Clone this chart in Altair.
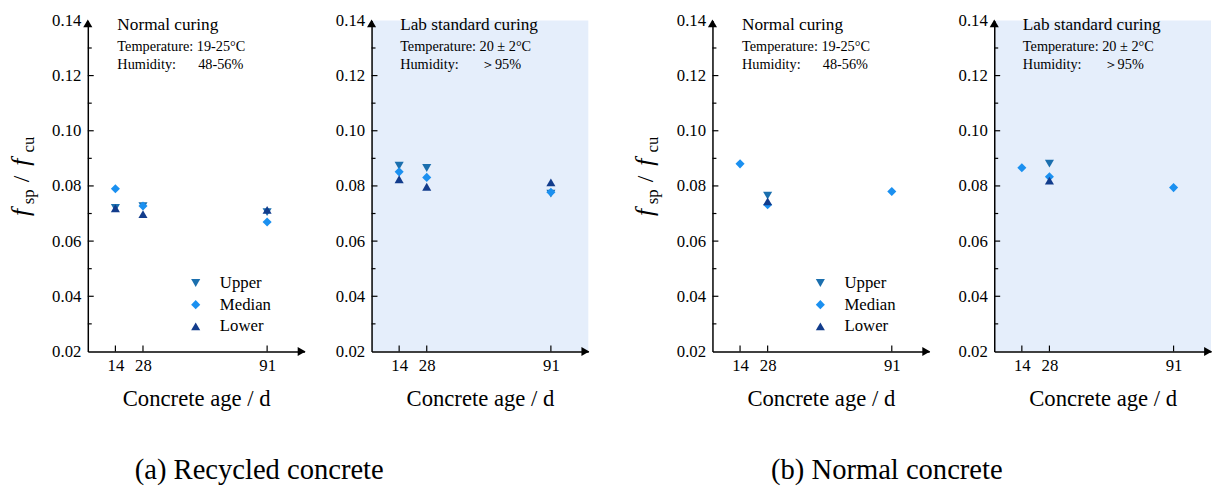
import altair as alt
import pandas as pd

SERIF = "Liberation Serif"

ages = [14, 28, 91]
series_names = ["Upper", "Median", "Lower"]
series_colors = ["#1b6fae", "#1b90f0", "#123c8c"]
series_shapes = ["triangle-down", "diamond", "triangle-up"]

# (a) Recycled concrete
rc_normal_upper = [0.0720, 0.0727, 0.0705]
rc_normal_median = [0.0790, 0.0727, 0.0669]
rc_normal_lower = [0.0719, 0.0698, 0.0713]
rc_lab_upper = [0.0873, 0.0865, 0.0772]
rc_lab_median = [0.0851, 0.0831, 0.0777]
rc_lab_lower = [0.0824, 0.0797, 0.0813]
# (b) Normal concrete
nc_normal_upper = [None, 0.0765, None]
nc_normal_median = [0.0880, 0.0732, 0.0780]
nc_normal_lower = [None, 0.0744, None]
nc_lab_upper = [None, 0.0881, None]
nc_lab_median = [0.0866, 0.0833, 0.0794]
nc_lab_lower = [None, 0.0819, None]

y_ticks = [0.02, 0.04, 0.06, 0.08, 0.10, 0.12, 0.14]
y_major_marks = [0.04, 0.06, 0.08, 0.10, 0.12]
y_minor_marks = [0.03, 0.05, 0.07, 0.09, 0.11, 0.13]
x_ticks = [14, 28, 91]

W, H = 220, 336

xs = alt.Scale(domain=[0, 110], nice=False, zero=False)
ys = alt.Scale(domain=[0.02, 0.14], nice=False, zero=False)
xaxis = alt.Axis(values=x_ticks, title="Concrete age / d", ticks=False, grid=False,
                 labelPadding=6, titlePadding=15, labelFontSize=17, titleFontSize=23,
                 labelFont=SERIF, titleFont=SERIF, titleFontWeight="normal",
                 labelColor="black", titleColor="black", domainColor="black", domainWidth=1.5)
yaxis = alt.Axis(values=y_ticks, format=".2f", title=None, ticks=False, grid=False,
                 labelPadding=7, labelFontSize=17, labelFont=SERIF, labelColor="black",
                 domainColor="black", domainWidth=1.5)
X = alt.X("age:Q", scale=xs, axis=xaxis)
Y = alt.Y("ratio:Q", scale=ys, axis=yaxis)

ONE = alt.Data(values=[{"k": 1}])


def make_df(upper, median, lower):
    rows = []
    for a, u, m, l in zip(ages, upper, median, lower):
        for name, v in (("Upper", u), ("Median", m), ("Lower", l)):
            if v is not None:
                rows.append({"age": a, "ratio": v, "series": name})
    order = {"Upper": 0, "Median": 1, "Lower": 2}
    rows.sort(key=lambda r: order[r["series"]])
    return pd.DataFrame(rows)


def txt(text, x, y, size, align="left", angle=0, style="normal", baseline="alphabetic"):
    kw = dict(text=text, fontSize=size, font=SERIF, align=align, baseline=baseline,
              color="black", fontStyle=style)
    if angle:
        kw["angle"] = angle
    return alt.Chart(ONE).mark_text(**kw).encode(x=alt.value(x), y=alt.value(y))


def panel(upper, median, lower, title, temp, hum, tx, hum_x, legend=False, ytitle=False,
          shaded=False, pin=False):
    df = make_df(upper, median, lower)
    if legend:
        leg = alt.Legend(orient="none", legendX=101, legendY=258, title=None,
                         labelFont=SERIF, labelFontSize=17, labelColor="black",
                         symbolSize=85, rowPadding=4, labelOffset=16, padding=0,
                         symbolOpacity=1, symbolStrokeWidth=0)
    else:
        leg = None
    color = alt.Color("series:N", scale=alt.Scale(domain=series_names, range=series_colors),
                      legend=leg)
    shape = alt.Shape("series:N", scale=alt.Scale(domain=series_names, range=series_shapes),
                      legend=leg)
    pts = alt.Chart(df).mark_point(filled=True, size=85, opacity=1).encode(
        x=X, y=Y, color=color, shape=shape)

    ymaj = alt.Chart(pd.DataFrame({"ratio": y_major_marks})).mark_rule(
        color="black", strokeWidth=1.2).encode(y=Y, x=alt.value(0), x2=alt.value(6))
    ymin = alt.Chart(pd.DataFrame({"ratio": y_minor_marks})).mark_rule(
        color="black", strokeWidth=1.2).encode(y=Y, x=alt.value(0), x2=alt.value(4))
    xtk = alt.Chart(pd.DataFrame({"age": x_ticks})).mark_rule(
        color="black", strokeWidth=1.2).encode(x=X, y=alt.value(H), y2=alt.value(H - 6))

    up_arrow = alt.Chart(ONE).mark_point(shape="triangle-up", filled=True, color="black",
                                         size=85, opacity=1).encode(
        x=alt.value(0), y=alt.value(3))
    right_arrow = alt.Chart(ONE).mark_point(shape="triangle-right", filled=True, color="black",
                                            size=85, opacity=1).encode(
        x=alt.value(W - 3), y=alt.value(H))

    layers = [ymaj, ymin, xtk, up_arrow, right_arrow,
              txt(title, tx, 10, 17.5),
              txt(temp, tx, 31, 14.5),
              txt("Humidity:", tx, 49, 14.5),
              txt(hum, hum_x, 49, 14.5),
              pts]
    if ytitle:
        layers += [
            txt("f", -60, 195, 26, align="center", angle=270, style="italic"),
            txt("sp", -55, 179, 17, align="center", angle=270),
            txt("/", -60, 161, 24, align="center", angle=270),
            txt("f", -60, 144, 26, align="center", angle=270, style="italic"),
            txt("cu", -55, 126, 17, align="center", angle=270),
        ]
    if pin:
        layers.append(alt.Chart(ONE).mark_rule(strokeOpacity=0).encode(
            x=alt.value(-81), x2=alt.value(-80), y=alt.value(-9)))
    ch = alt.layer(*layers).properties(width=W, height=H)
    if shaded:
        ch = ch.properties(view=alt.ViewBackground(fill="#e5eefb", strokeWidth=0))
    return ch


p1 = panel(rc_normal_upper, rc_normal_median, rc_normal_lower,
           "Normal curing", "Temperature: 19-25°C", "48-56%", 30, 112,
           legend=True, ytitle=True, pin=True)
p2 = panel(rc_lab_upper, rc_lab_median, rc_lab_lower,
           "Lab standard curing", "Temperature: 20 ± 2°C", "＞95%", 29, 111, shaded=True)
p3 = panel(nc_normal_upper, nc_normal_median, nc_normal_lower,
           "Normal curing", "Temperature: 19-25°C", "48-56%", 30, 112,
           legend=True, ytitle=True)
p4 = panel(nc_lab_upper, nc_lab_median, nc_lab_lower,
           "Lab standard curing", "Temperature: 20 ± 2°C", "＞95%", 29, 111, shaded=True)


def cap(text, dx):
    return alt.TitleParams(text, orient="bottom", anchor="middle",
                           fontSize=29, font=SERIF, fontWeight="normal", color="black",
                           offset=46, dx=dx)


ga = alt.hconcat(p1, p2, spacing=30, title=cap("(a) Recycled concrete", -40)
                 ).resolve_legend(color="independent", shape="independent")
gb = alt.hconcat(p3, p4, spacing=28, title=cap("(b) Normal concrete", -36)
                 ).resolve_legend(color="independent", shape="independent")

chart = alt.hconcat(ga, gb, spacing=44).resolve_legend(
    color="independent", shape="independent"
).properties(padding=0).configure_view(strokeWidth=0)

chart.save("out.html", embed_options={"renderer": "svg", "actions": False})
